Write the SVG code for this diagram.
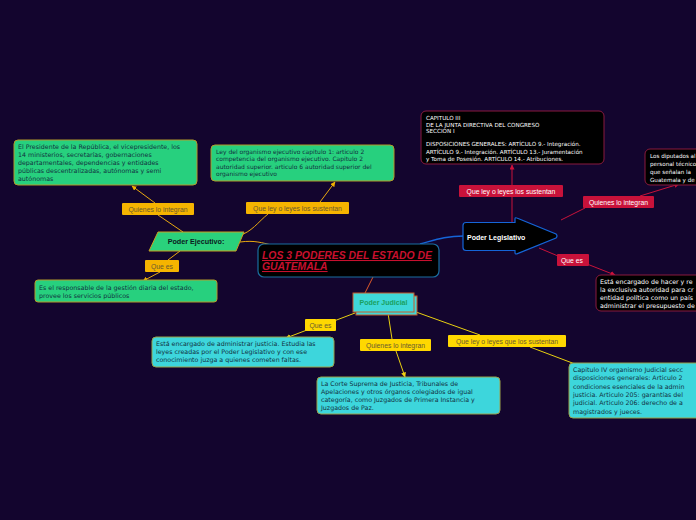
<svg xmlns="http://www.w3.org/2000/svg" width="696" height="520" viewBox="0 0 696 520">
<defs>
<marker id="ay" viewBox="0 0 10 10" refX="9" refY="5" markerWidth="5" markerHeight="5" orient="auto"><path d="M0,0L10,5L0,10z" fill="#f0b000"/></marker>
<marker id="ar" viewBox="0 0 10 10" refX="9" refY="5" markerWidth="5" markerHeight="5" orient="auto"><path d="M0,0L10,5L0,10z" fill="#d0103a"/></marker>
<marker id="aj" viewBox="0 0 10 10" refX="9" refY="5" markerWidth="5" markerHeight="5" orient="auto"><path d="M0,0L10,5L0,10z" fill="#f0d010"/></marker>
</defs>
<style>
text{font-family:"Liberation Sans",Arial,sans-serif}
.green{fill:#27d07e;stroke:#b39a2a;stroke-width:1}
.cyan{fill:#3dd6dc;stroke:#9aa24a;stroke-width:1}
.blk{fill:#000;stroke:#8a1a3e;stroke-width:1}
.t{font-size:6.3px;fill:#123040;font-family:"DejaVu Sans",sans-serif}
.t2{font-size:6px;fill:#123040;font-family:"DejaVu Sans",sans-serif}
.tw{font-size:5.6px;fill:#fff;font-family:"DejaVu Sans",sans-serif}
.tw2{font-size:6.3px;fill:#fff;font-family:"DejaVu Sans",sans-serif}
.lbly{fill:#f5b400}
.lblj{fill:#ffd800}
.lblr{fill:#c8123a}
.ly{font-size:6.8px;fill:#6b5a30}
.lr{font-size:6.8px;fill:#fff}
.cy{stroke:#e8a810;fill:none;stroke-width:1}
.cr{stroke:#c8123a;fill:none;stroke-width:1}
.cj{stroke:#e8d010;fill:none;stroke-width:1}
</style>
<rect width="696" height="520" fill="#13052e"/>

<g id="connectors">
<path class="cy" d="M183,232 L158,215"/>
<path class="cy" d="M155,203 L132,186" marker-end="url(#ay)"/>
<path class="cy" d="M238,236 C252,232 258,222 268,214"/>
<path class="cy" d="M320,202 L335,182" marker-end="url(#ay)"/>
<path class="cy" d="M240,242 C255,240 262,243 272,245"/>
<path class="cy" d="M180,251 L168,260"/>
<path class="cy" d="M160,272 L143,281" marker-end="url(#ay)"/>
<path d="M420,244 C435,240 445,236 464,236" stroke="#1565d8" fill="none" stroke-width="1.3"/>
<path class="cr" d="M512,222 L512,197"/>
<path class="cr" d="M512,185 L512,165" marker-end="url(#ar)"/>
<path class="cr" d="M561,220 L585,208"/>
<path class="cr" d="M640,196 L679,184" marker-end="url(#ar)"/>
<path class="cr" d="M539,248 L558,256"/>
<path class="cr" d="M587,264 L615,275" marker-end="url(#ar)"/>
<path d="M373,277 L365,293" stroke="#e05a2a" fill="none" stroke-width="1"/>
<path class="cj" d="M355,313 L334,321"/>
<path class="cj" d="M307,330 L286,338" marker-end="url(#aj)"/>
<path class="cj" d="M388,313 L392,339"/>
<path class="cj" d="M396,351 L405,377" marker-end="url(#aj)"/>
<path class="cj" d="M416,312 L480,335"/>
<path class="cj" d="M530,347 L575,364"/>
</g>

<g id="center">
<rect x="258" y="244" width="181" height="33" rx="6" fill="#000" stroke="#1a6ea0" stroke-width="1.2"/>
<text x="262" y="259" font-size="10.4" font-weight="bold" font-style="italic" fill="#c8102e" text-decoration="underline">LOS 3 PODERES DEL ESTADO DE</text>
<text x="262" y="270" font-size="10.4" font-weight="bold" font-style="italic" fill="#c8102e" text-decoration="underline">GUATEMALA</text>
</g>

<g id="ejecutivo">
<polygon points="158,232 244,232 236,251 149,251" fill="#2ad17c" stroke="#c8a020"/>
<text x="196" y="244" text-anchor="middle" font-size="7.2" font-weight="bold" fill="#0a1a20">Poder Ejecutivo:</text>
</g>
<g id="ej-integran-box">
<rect class="green" x="14" y="140" width="183" height="45" rx="4"/>
<text class="t" x="18" y="149">El Presidente de la República, el vicepresidente, los</text>
<text class="t" x="18" y="157">14 ministerios, secretarías, gobernaciones</text>
<text class="t" x="18" y="165">departamentales, dependencias y entidades</text>
<text class="t" x="18" y="173">públicas descentralizadas, autónomas y semi</text>
<text class="t" x="18" y="181">autónomas</text>
</g>
<g id="ej-ley-box">
<rect class="green" x="211" y="145" width="183" height="36" rx="4"/>
<text class="t2" x="216" y="154">Ley del organismo ejecutivo capitulo 1: articulo 2</text>
<text class="t2" x="216" y="161">competencia del organismo ejecutivo. Capitulo 2</text>
<text class="t2" x="216" y="169">autoridad superior. articulo 6 autoridad superior del</text>
<text class="t2" x="216" y="176">organismo ejecutivo</text>
</g>
<g id="ej-que-box">
<rect class="green" x="35" y="280" width="182" height="22" rx="3"/>
<text class="t" x="39" y="290">Es el responsable de la gestión diaria del estado,</text>
<text class="t" x="39" y="298">provee los servicios públicos</text>
</g>
<g id="ej-lbl1"><rect class="lbly" x="122" y="203" width="72" height="12" rx="1"/><text class="ly" x="158" y="211.5" text-anchor="middle">Quienes lo integran</text></g>
<g id="ej-lbl2"><rect class="lbly" x="246" y="202" width="103" height="12" rx="1"/><text class="ly" x="297.5" y="210.5" text-anchor="middle">Que ley o leyes los sustentan</text></g>
<g id="ej-lbl3"><rect class="lbly" x="145" y="260" width="34" height="12" rx="1"/><text class="ly" x="162" y="268.5" text-anchor="middle">Que es</text></g>

<g id="legislativo">
<path d="M466,222.5 L515,222.5 L515,219 Q515,217 517.5,218.2 L556,234 Q558,236 556,238 L517.5,253.6 Q515,254.8 515,252.5 L515,250.5 L466,250.5 Q463,250.5 463,247.5 L463,225.5 Q463,222.5 466,222.5 Z" fill="#000" stroke="#1565d8" stroke-width="1.2"/>
<text x="467" y="239.5" font-size="7" font-weight="bold" fill="#fff">Poder Legislativo</text>
</g>
<g id="leg-ley-box">
<rect class="blk" x="421" y="111" width="183" height="53" rx="5"/>
<text class="tw" x="426" y="120">CAPITULO III</text>
<text class="tw" x="426" y="126.5">DE LA JUNTA DIRECTIVA DEL CONGRESO</text>
<text class="tw" x="426" y="133">SECCION I</text>
<text class="tw" x="426" y="146">DISPOSICIONES GENERALES: ARTÍCULO 9.- Integración.</text>
<text class="tw" x="426" y="153.5">ARTÍCULO 9.- Integración. ARTÍCULO 13.- Juramentación</text>
<text class="tw" x="426" y="161">y Toma de Posesión. ARTÍCULO 14.- Atribuciones.</text>
</g>
<g id="leg-integran-box">
<rect class="blk" x="645" y="149" width="70" height="36" rx="5"/>
<text class="tw" x="650" y="158">Los diputados al</text>
<text class="tw" x="650" y="166">personal técnico</text>
<text class="tw" x="650" y="174">que señalan la</text>
<text class="tw" x="650" y="182">Guatemala y de</text>
</g>
<g id="leg-que-box">
<rect class="blk" x="596" y="275" width="120" height="36" rx="5"/>
<text class="tw2" x="600" y="284">Está encargado de hacer y re</text>
<text class="tw2" x="600" y="292">la exclusiva autoridad para cr</text>
<text class="tw2" x="600" y="300">entidad política como un país</text>
<text class="tw2" x="600" y="308">administrar el presupuesto de</text>
</g>
<g id="leg-lbl1"><rect class="lblr" x="459" y="185" width="104" height="12" rx="1"/><text class="lr" x="511" y="193.5" text-anchor="middle">Que ley o leyes los sustentan</text></g>
<g id="leg-lbl2"><rect class="lblr" x="583" y="196" width="71" height="12" rx="1"/><text class="lr" x="618.5" y="204.5" text-anchor="middle">Quienes lo integran</text></g>
<g id="leg-lbl3"><rect class="lblr" x="557" y="254" width="32" height="12" rx="1"/><text class="lr" x="561" y="262.5">Que es</text></g>

<g id="judicial">
<rect x="356" y="296" width="61" height="19" fill="#3fd8d8" stroke="#c85a2a"/>
<rect x="353" y="293" width="61" height="19" fill="#3fd8d8" stroke="#c85a2a"/>
<text x="383.5" y="305" text-anchor="middle" font-size="7" font-weight="bold" fill="#1aa060">Poder Judicial</text>
</g>
<g id="jud-que-box">
<rect class="cyan" x="152" y="337" width="182" height="30" rx="4"/>
<text class="t" x="156" y="346">Está encargado de administrar justicia. Estudia las</text>
<text class="t" x="156" y="354">leyes creadas por el Poder Legislativo y con ese</text>
<text class="t" x="156" y="362">conocimiento juzga a quienes cometen faltas.</text>
</g>
<g id="jud-integran-box">
<rect class="cyan" x="317" y="377" width="183" height="37" rx="4"/>
<text class="t" x="321" y="386">La Corte Suprema de Justicia, Tribunales de</text>
<text class="t" x="321" y="394">Apelaciones y otros órganos colegiados de igual</text>
<text class="t" x="321" y="402">categoría, como Juzgados de Primera Instancia y</text>
<text class="t" x="321" y="410">Juzgados de Paz.</text>
</g>
<g id="jud-ley-box">
<rect class="cyan" x="569" y="363" width="140" height="55" rx="4"/>
<text class="t" x="573" y="372">Capitulo IV organismo Judicial secc</text>
<text class="t" x="573" y="380">disposiciones generales:  Articulo 2</text>
<text class="t" x="573" y="389">condiciones esenciales de la admin</text>
<text class="t" x="573" y="397">justicia. Articulo 205: garantías del</text>
<text class="t" x="573" y="405">judicial. Articulo 206: derecho de a</text>
<text class="t" x="573" y="414">magistrados y jueces.</text>
</g>
<g id="jud-lbl1"><rect class="lblj" x="305" y="319" width="31" height="12" rx="1"/><text class="ly" x="320.5" y="327.5" text-anchor="middle">Que es</text></g>
<g id="jud-lbl2"><rect class="lblj" x="360" y="339" width="71" height="12" rx="1"/><text class="ly" x="395.5" y="347.5" text-anchor="middle">Quienes lo integran</text></g>
<g id="jud-lbl3"><rect class="lblj" x="448" y="335" width="118" height="12" rx="1"/><text class="ly" x="507" y="343.5" text-anchor="middle">Que ley o leyes que los sustentan</text></g>
</svg>
